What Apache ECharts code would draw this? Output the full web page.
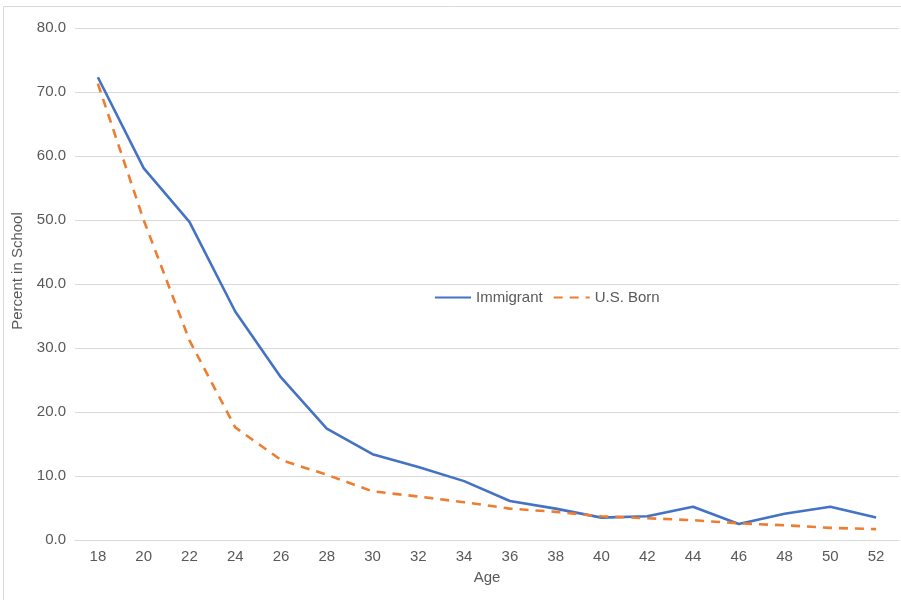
<!DOCTYPE html>
<html>
<head>
<meta charset="utf-8">
<script src="https://cdn.jsdelivr.net/npm/echarts@6/dist/echarts.min.js"></script>
<style>
  html, body { margin: 0; padding: 0; background: #fff; }
  #chart { width: 901px; height: 600px; }
</style>
</head>
<body>
<div id="chart"></div>
<script>
// Age groups along the horizontal axis
var ages = ['18', '20', '22', '24', '26', '28', '30', '32', '34', '36', '38', '40', '42', '44', '46', '48', '50', '52'];

// Share of each age group enrolled in school (%)
var immigrant = [72.3, 58.1, 49.7, 35.7, 25.4, 17.4, 13.4, 11.4, 9.2, 6.1, 4.9, 3.5, 3.7, 5.2, 2.5, 4.1, 5.2, 3.5];
var usBorn    = [71.3, 50.0, 31.2, 17.6, 12.5, 10.2, 7.6, 6.8, 5.9, 4.9, 4.4, 3.7, 3.4, 3.1, 2.6, 2.3, 1.9, 1.7];

var seriesNames = ['Immigrant', 'U.S. Born'];
var axisTitles = { x: 'Age', y: 'Percent in School' };

var textColor = '#595959';
var fontFamily = '"Liberation Sans", Arial, sans-serif';

var chart = echarts.init(document.getElementById('chart'), null, { renderer: 'canvas' });

chart.setOption({
  animation: false,
  backgroundColor: '#ffffff',
  textStyle: { fontFamily: fontFamily, color: textColor },
  grid: { left: 75, right: 2, top: 28, bottom: 60, containLabel: false },
  legend: {
    data: seriesNames,
    left: 429,
    top: 285,
    itemWidth: 36,
    itemHeight: 14,
    itemGap: 10,
    itemStyle: { opacity: 0 },
    textStyle: { fontSize: 15, color: textColor, fontFamily: fontFamily }
  },
  xAxis: {
    type: 'category',
    data: ages,
    boundaryGap: true,
    name: axisTitles.x,
    nameLocation: 'middle',
    nameGap: 30,
    nameTextStyle: { fontSize: 15, color: textColor },
    axisLine: { show: true, lineStyle: { color: '#d9d9d9', width: 1 } },
    axisTick: { show: false },
    axisLabel: { fontSize: 15, color: textColor, margin: 9 }
  },
  yAxis: {
    type: 'value',
    min: 0,
    max: 80,
    interval: 10,
    axisLine: { show: false },
    axisTick: { show: false },
    axisLabel: {
      fontSize: 15,
      color: textColor,
      margin: 9,
      formatter: function (v) { return v.toFixed(1); }
    },
    splitLine: { lineStyle: { color: '#d9d9d9', width: 1 } }
  },
  graphic: [
    {
      type: 'rect',
      shape: { x: 3.5, y: 6.5, width: 920, height: 620 },
      style: { fill: 'none', stroke: '#d9d9d9', lineWidth: 1 },
      silent: true,
      z: -1
    },
    {
      type: 'text',
      x: 18,
      y: 271,
      rotation: Math.PI / 2,
      style: {
        text: axisTitles.y,
        fontSize: 15,
        fontFamily: fontFamily,
        fill: textColor,
        align: 'center',
        verticalAlign: 'middle'
      }
    }
  ],
  series: [
    {
      name: seriesNames[0],
      type: 'line',
      data: immigrant,
      symbol: 'none',
      showSymbol: false,
      lineStyle: { color: '#4472C4', width: 2.6, type: 'solid' },
      itemStyle: { color: '#4472C4' }
    },
    {
      name: seriesNames[1],
      type: 'line',
      data: usBorn,
      symbol: 'none',
      showSymbol: false,
      lineStyle: { color: '#ED7D31', width: 2.6, type: [9, 7] },
      itemStyle: { color: '#ED7D31' }
    }
  ]
});
</script>
</body>
</html>
